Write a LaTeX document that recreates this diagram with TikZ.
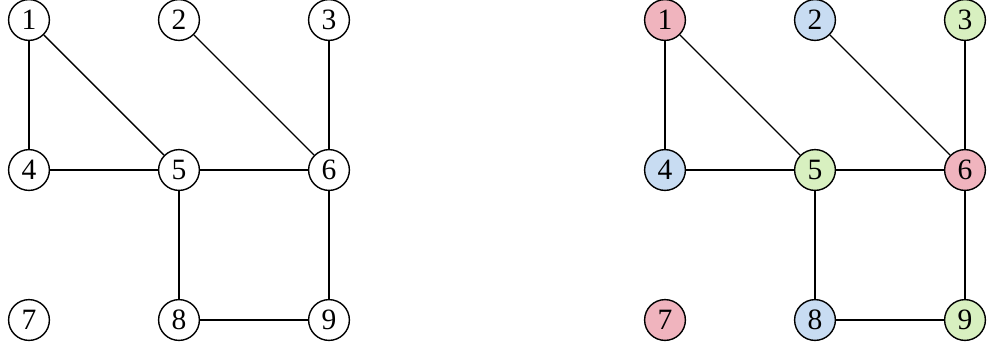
\documentclass[tikz,border=0pt]{standalone}
\usepackage{fontspec}
\setmainfont{Liberation Serif}
\usepackage{tikz}
\usetikzlibrary{shapes.geometric}

\definecolor{colred}{HTML}{F0B4BE}
\definecolor{colblue}{HTML}{C8DCF2}
\definecolor{colgreen}{HTML}{D8F0C0}

\begin{document}
\begin{tikzpicture}[node distance=3.75cm]
        \tikzstyle{vertex} = [circle, minimum size=1.02cm, inner sep=0pt, text centered, draw=black, line width=1pt, fill=white, font=\fontsize{21}{21}\selectfont]
        \tikzstyle{red} = [vertex, fill=colred]
        \tikzstyle{blue} = [vertex, fill=colblue]
        \tikzstyle{green} = [vertex, fill=colgreen]
        \tikzstyle{edge} = [line width=1pt]

        \useasboundingbox (0,0) rectangle (24.675,-8.675);

        % Left graph
        \node (a1) [vertex] at (0.725,-0.5) {1};
        \node (a2) [vertex, right of=a1] {2};
        \node (a3) [vertex, right of=a2] {3};
        \node (a4) [vertex, below of=a1] {4};
        \node (a5) [vertex, right of=a4] {5};
        \node (a6) [vertex, right of=a5] {6};
        \node (a7) [vertex, below of=a4] {7};
        \node (a8) [vertex, right of=a7] {8};
        \node (a9) [vertex, right of=a8] {9};

        % Right graph
        \node (b1) [red] at (16.625,-0.5) {1};
        \node (b2) [blue, right of=b1] {2};
        \node (b3) [green, right of=b2] {3};
        \node (b4) [blue, below of=b1] {4};
        \node (b5) [green, right of=b4] {5};
        \node (b6) [red, right of=b5] {6};
        \node (b7) [red, below of=b4] {7};
        \node (b8) [blue, right of=b7] {8};
        \node (b9) [green, right of=b8] {9};

        % Edges
        \draw [edge] (a1) -- (a4);
        \draw [edge] (a1) -- (a5);
        \draw [edge] (a2) -- (a6);
        \draw [edge] (a3) -- (a6);
        \draw [edge] (a4) -- (a5);
        \draw [edge] (a5) -- (a6);
        \draw [edge] (a5) -- (a8);
        \draw [edge] (a6) -- (a9);
        \draw [edge] (a8) -- (a9);

        \draw [edge] (b1) -- (b4);
        \draw [edge] (b1) -- (b5);
        \draw [edge] (b2) -- (b6);
        \draw [edge] (b3) -- (b6);
        \draw [edge] (b4) -- (b5);
        \draw [edge] (b5) -- (b6);
        \draw [edge] (b5) -- (b8);
        \draw [edge] (b6) -- (b9);
        \draw [edge] (b8) -- (b9);
    \end{tikzpicture}
\end{document}
